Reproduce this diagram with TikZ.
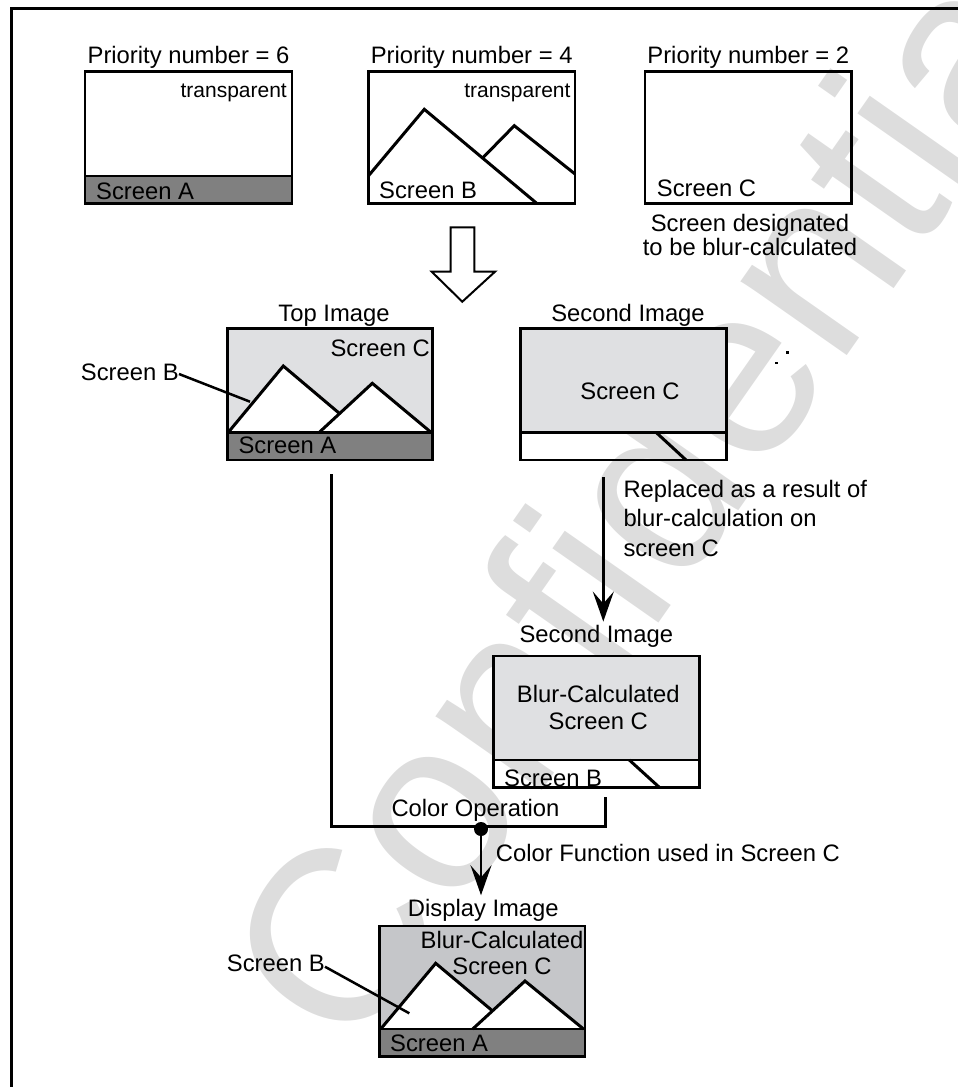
\documentclass[tikz,border=0pt]{standalone}
\usepackage{fontspec}
\setmainfont{Liberation Sans}
\usetikzlibrary{arrows.meta,calc}
\definecolor{paneL}{RGB}{223,224,226}
\definecolor{paneD}{RGB}{197,198,201}
\definecolor{bandG}{RGB}{128,128,128}
\definecolor{wmark}{RGB}{221,221,221}

\begin{document}
\begin{tikzpicture}[x=1pt,y=-1pt,
  panel/.style={draw=black, line width=2.6pt, rectangle, inner sep=0pt, outer sep=0pt, anchor=north west},
  lbl/.style={inner sep=0pt, font=\fontsize{23.8}{28}\selectfont},
  small/.style={inner sep=0pt, font=\fontsize{21}{25}\selectfont},
  ridge/.style={line width=3pt, line join=miter},
  divider/.style={line width=2.4pt},
  link/.style={line width=2.5pt},
  flow/.style={line width=2.5pt, -{Stealth[length=30pt,width=21pt,inset=12pt]}},
]
\useasboundingbox (0,0) rectangle (958,1087);
\clip (0,0) rectangle (958,1087);

% watermark
\node[rotate=55, anchor=base west, inner sep=0pt, text=wmark,
      font=\fontsize{245}{245}\selectfont] (wm) at (353,1061) {Confidential};

% page frame
\draw[line width=2.5pt] (11.5,1100) |- (975,8.7);

% ---- layer with priority 6
\fill[bandG] (85,176) rectangle (292,203.3);
\draw[divider] (85,176) -- (292,176);
\node[panel, minimum width=207pt, minimum height=131.6pt] (scrA) at (85,71.7) {};
\node[lbl, anchor=base] (pA) at (188.5,63) {Priority number = 6};
\node[small, anchor=base east] (tA) at (287,97) {transparent};
\node[lbl, anchor=base west] (nA) at (96,199) {Screen A};

% ---- layer with priority 4
\draw[ridge] (368.3,176) -- (424.3,109.3) -- (536.7,203.3);
\draw[ridge] (483.3,157.3) -- (514.3,125.7) -- (575,174);
\node[panel, minimum width=206.7pt, minimum height=131.6pt] (scrB) at (368.3,71.7) {};
\node[lbl, anchor=base] (pB) at (471.7,63) {Priority number = 4};
\node[small, anchor=base east] (tB) at (570.7,97) {transparent};
\node[lbl, anchor=base west] (nB) at (379,198) {Screen B};

% ---- layer with priority 2
\node[panel, minimum width=206.7pt, minimum height=131.6pt] (scrC) at (645,71.7) {};
\node[lbl, anchor=base] (pC) at (748.3,63) {Priority number = 2};
\node[lbl, anchor=base west] (nC) at (656.7,196.7) {Screen C};
\node[lbl, anchor=base] (dC1) at (750,231.7) {Screen designated};
\node[lbl, anchor=base] (dC2) at (750,255.5) {to be blur-calculated};

% ---- hollow arrow
\draw[line width=2pt, line join=miter] (450.7,227.3) -- (474.3,227.3) -- (474.3,271.7)
  -- (495,271.7) -- (462.3,301.7) -- (431.7,271.7) -- (450.7,271.7) -- cycle;

% ---- top image
\fill[paneL] (227.3,328.3) rectangle (432.3,432.3);
\fill[bandG] (227.3,432.3) rectangle (432.3,460);
\fill[white] (228.3,432.3) -- (283.3,366) -- (339.3,413.3) -- (372.3,383.3) -- (431,432.3) -- cycle;
\draw[ridge] (228.3,432.3) -- (283.3,366) -- (339.3,413.3);
\draw[ridge] (319.3,432.3) -- (372.3,383.3) -- (431,432.3);
\draw[divider] (227.3,432.3) -- (432.3,432.3);
\node[panel, minimum width=205pt, minimum height=131.7pt] (top) at (227.3,328.3) {};
\node[lbl, anchor=base] (topL) at (334,321.7) {Top Image};
\node[lbl, anchor=base east] (topC) at (430,356.7) {Screen C};
\node[lbl, anchor=base west] (topA) at (238.3,453.3) {Screen A};
\node[lbl, anchor=base west] (topB) at (80.7,380) {Screen B};
\coordinate (topBtip) at (250,401.7);
\draw[link] ([yshift=6pt]topB.base east) -- (topBtip);

% ---- second image
\fill[paneL] (520.7,328.3) rectangle (726.7,432.3);
\draw[divider] (520.7,432.3) -- (726.7,432.3);
\draw[ridge] (656,432.3) -- (686,460);
\node[panel, minimum width=206pt, minimum height=131.7pt] (sec) at (520.7,328.3) {};
\node[lbl, anchor=base] (secL) at (628,321.7) {Second Image};
\node[lbl, anchor=base] (secC) at (630,399) {Screen C};
\fill (775,361.5) rectangle (777.5,364);
\fill (786,351) rectangle (788.5,353.5);

% ---- blurred second image
\fill[paneL] (493.3,656) rectangle (699.3,760);
\draw[divider] (493.3,760) -- (699.3,760);
\draw[ridge] (629.3,760) -- (659.3,787.3);
\node[lbl, anchor=base west] (sec2B) at (504,786.5) {Screen B};
\node[panel, minimum width=206pt, minimum height=131.3pt] (sec2) at (493.3,656) {};
\node[lbl, anchor=base] (sec2L) at (596.3,642) {Second Image};
\node[lbl, anchor=base] (sec2C1) at (598.3,702.7) {Blur-Calculated};
\node[lbl, anchor=base] (sec2C2) at (598.3,729.3) {Screen C};

% replacement arrow
\coordinate (rx) at (603.3,470);
\draw[flow, shorten <=17.3pt, shorten >=3pt] (sec.south -| rx) -- (sec2L.north -| rx);
\node[lbl, anchor=base west] (rep1) at (623.3,497.3) {Replaced as a result of};
\node[lbl, anchor=base west] (rep2) at (623.3,526.5) {blur-calculation on};
\node[lbl, anchor=base west] (rep3) at (623.3,556) {screen C};

% ---- colour operation
\node[circle, fill=black, inner sep=0pt, minimum size=14pt] (op) at (481,829) {};
\coordinate (opL) at (331.7,826.7);
\coordinate (opR) at (605.3,826.7);
\draw[link, shorten <=14pt, shorten >=10pt] (top.south -| opL) -- (opL) -- (opR) -- (sec2.south -| opR);
\node[lbl, anchor=base] (opT) at (475.5,816.7) {Color Operation};
\node[lbl, anchor=base west] (cf) at (495.7,861.7) {Color Function used in Screen C};

% ---- display image
\fill[paneD] (379.3,926) rectangle (585,1029);
\fill[bandG] (379.3,1029) rectangle (585,1056.7);
\fill[white] (380.7,1029) -- (435.7,963.3) -- (492.3,1010.7) -- (525,981) -- (583.5,1029) -- cycle;
\draw[ridge] (380.7,1029) -- (435.7,963.3) -- (492.3,1010.7);
\draw[ridge] (472.7,1029) -- (525,981) -- (583.5,1029);
\draw[divider] (379.3,1029) -- (585,1029);
\node[panel, minimum width=205.7pt, minimum height=130.7pt] (disp) at (379.3,926) {};
\node[lbl, anchor=base] (dispL) at (483.3,916.7) {Display Image};
\node[lbl, anchor=base] (dispC1) at (502,948.3) {Blur-Calculated};
\node[lbl, anchor=base] (dispC2) at (502,974) {Screen C};
\node[lbl, anchor=base west] (dispA) at (390,1051.7) {Screen A};
\node[lbl, anchor=base west] (dispB) at (226.7,971.7) {Screen B};
\coordinate (dispBtip) at (409.3,1013.3);
\draw[link] ([yshift=5pt]dispB.base east) -- (dispBtip);

\draw[flow, shorten >=4pt] (op) -- (op |- dispL.north);
\end{tikzpicture}
\end{document}
